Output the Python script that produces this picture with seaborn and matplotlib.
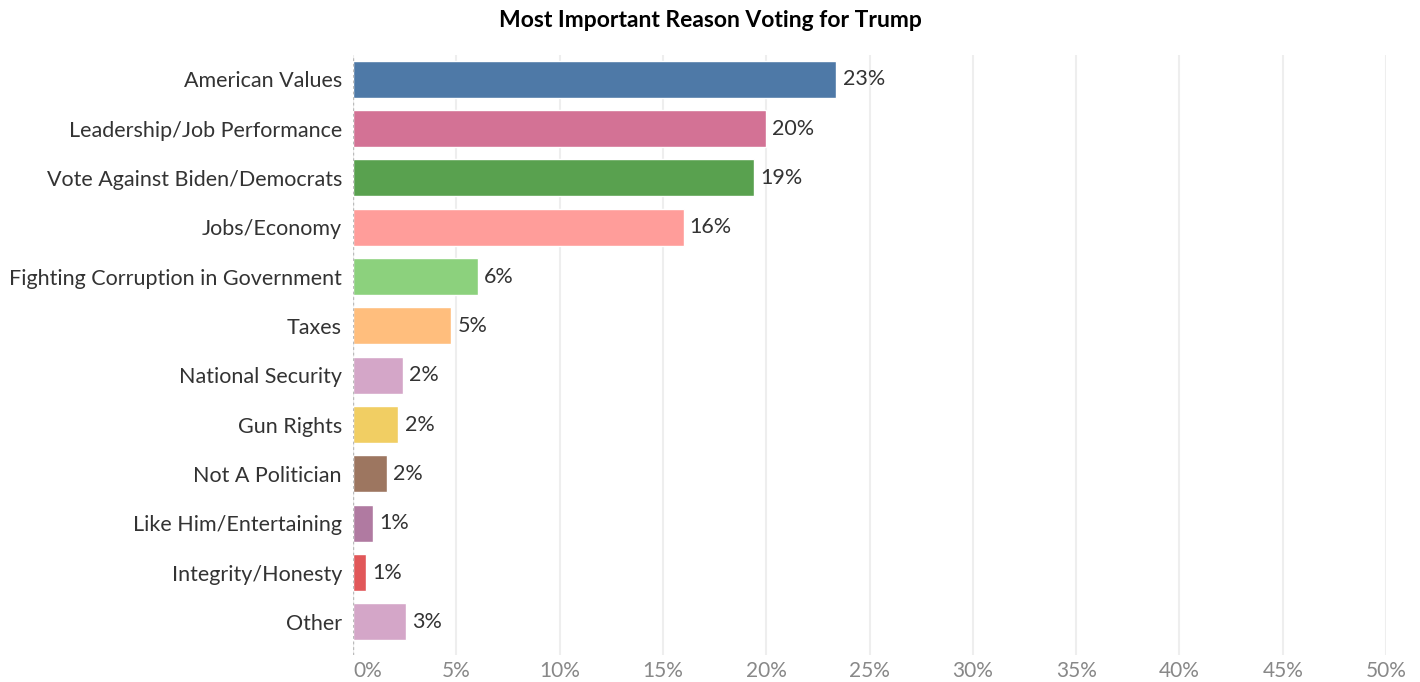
import matplotlib
matplotlib.use('Agg')
import matplotlib.pyplot as plt
import matplotlib.ticker as ticker
import seaborn as sns
import pandas as pd

reasons = ['American Values', 'Leadership/Job Performance', 'Vote Against Biden/Democrats',
           'Jobs/Economy', 'Fighting Corruption in Government', 'Taxes', 'National Security',
           'Gun Rights', 'Not A Politician', 'Like Him/Entertaining', 'Integrity/Honesty', 'Other']
shares = [23.4, 20.0, 19.4, 16.0, 6.05, 4.75, 2.4, 2.2, 1.65, 0.95, 0.65, 2.55]
colors = ['#4E79A7', '#D37295', '#59A14F', '#FF9D9A', '#8CD17D', '#FFBE7D', '#D4A6C8',
          '#F1CE63', '#9D7660', '#B07AA1', '#E15759', '#D4A6C8']
x_ticks = [0, 5, 10, 15, 20, 25, 30, 35, 40, 45, 50]

df = pd.DataFrame({'Reason': reasons, 'Share': shares})

sns.set_theme(style='white')
plt.rcParams['font.family'] = ['Lato', 'DejaVu Sans']

fig = plt.figure(figsize=(14.2, 6.82), dpi=100)
ax = fig.add_axes([0.2486, 0.0396, 0.7275, 0.8797])

sns.barplot(data=df, x='Share', y='Reason', hue='Reason', palette=colors, legend=False,
            width=0.75, saturation=1, ax=ax, zorder=3)

ax.set_xlim(0, 50)
ax.set_ylim(11.67, -0.49)
ax.set_xticks(x_ticks)
ax.xaxis.set_major_formatter(ticker.FuncFormatter(lambda v, p: f'{v:.0f}%'))
ax.tick_params(axis='x', labelsize=15, labelcolor='#888888', length=0, pad=4)
ax.tick_params(axis='y', labelsize=15.5, labelcolor='#333333', length=0, pad=8)
for lbl in ax.get_xticklabels()[:1]:
    lbl.set_horizontalalignment('left')

for s in ax.spines.values():
    s.set_visible(False)
ax.grid(axis='x', color='#EEEEEE', linewidth=1.5, zorder=0)
ax.axvline(0, color='#BBBBBB', linestyle=(0, (2, 2)), linewidth=1, zorder=4)
ax.set_xlabel('')
ax.set_ylabel('')

for i, v in enumerate(shares):
    ax.text(v + 0.3, i, f'{round(v):.0f}%', va='center', ha='left', fontsize=15.5, color='#333333')

fig.suptitle('Most Important Reason Voting for Trump', x=0.5, y=0.985, fontsize=16.5,
             fontweight='bold', color='#000000', va='top')

fig.savefig('out.png', dpi=100)
